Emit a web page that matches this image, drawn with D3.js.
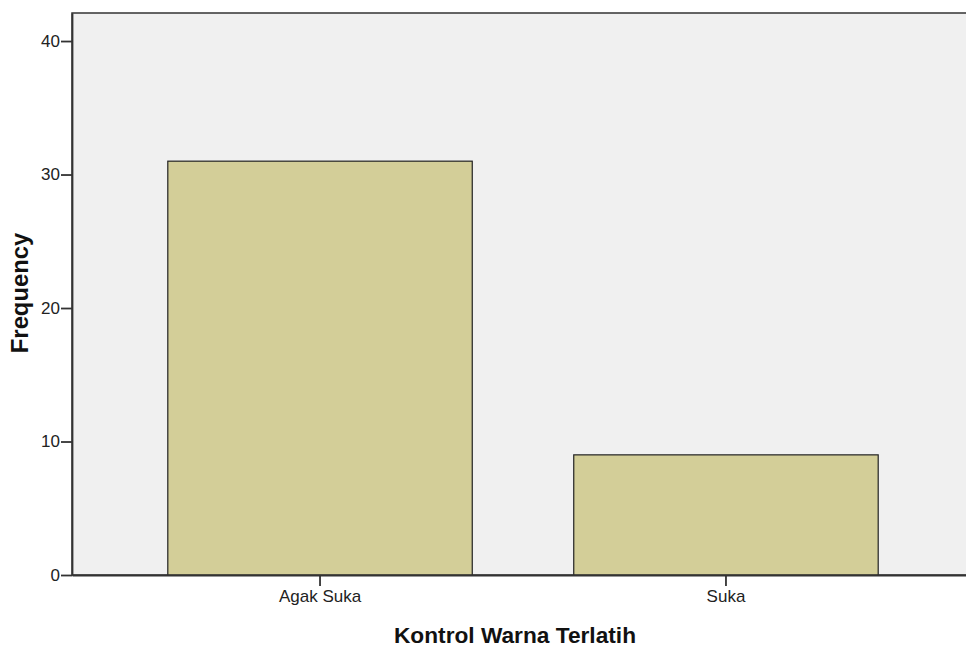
<!DOCTYPE html>
<html><head><meta charset="utf-8">
<script src="https://cdn.jsdelivr.net/npm/d3@7"></script>
<style>body{margin:0;background:#fff}svg{display:block}</style>
</head><body>
<script>
const categories = ["Agak Suka", "Suka"];
const frequencies = [31, 9];
const yTicks = [0, 10, 20, 30, 40];
const xTitle = "Kontrol Warna Terlatih";
const yTitle = "Frequency";

const W = 966, H = 652;
const m = {left: 72, top: 13, right: -8, bottom: 77};
const svg = d3.select("body").append("svg").attr("width", W).attr("height", H);

const x = d3.scaleBand().domain(categories).range([m.left, W - m.right]).paddingInner(0.25).paddingOuter(0.236);
const y = d3.scaleLinear().domain([0, 42.1]).range([H - m.bottom, m.top]);
const FONT = "Liberation Sans, Arial, sans-serif";

svg.append("rect").attr("x", m.left).attr("y", m.top).attr("width", W - m.right - m.left).attr("height", H - m.bottom - m.top)
  .attr("fill", "#f0f0f0").attr("stroke", "#333").attr("stroke-width", 1.5);

svg.selectAll("rect.bar").data(frequencies).join("rect").attr("class", "bar")
  .attr("x", (d, i) => x(categories[i])).attr("y", d => y(d))
  .attr("width", x.bandwidth()).attr("height", d => y(0) - y(d))
  .attr("fill", "#d3ce98").attr("stroke", "#222").attr("stroke-width", 1.2);

const yAxis = svg.append("g").attr("transform", `translate(${m.left},0)`)
  .call(d3.axisLeft(y).tickValues(yTicks).tickSizeInner(11).tickSizeOuter(0).tickPadding(1).tickFormat(d3.format("d")));
const xAxis = svg.append("g").attr("transform", `translate(0,${H - m.bottom})`)
  .call(d3.axisBottom(x).tickSizeInner(11).tickSizeOuter(0).tickPadding(4));
[yAxis, xAxis].forEach(g => {
  g.select(".domain").attr("stroke", "#333").attr("stroke-width", 1.8);
  g.selectAll(".tick line").attr("stroke", "#333").attr("stroke-width", 1.8);
  g.selectAll("text").attr("fill", "#222").attr("font-family", FONT).attr("font-size", 17);
});

svg.append("text").attr("x", 515).attr("y", 643).attr("text-anchor", "middle")
  .attr("font-family", FONT).attr("font-weight", "bold").attr("font-size", 22.7).attr("fill", "#111")
  .text(xTitle);
svg.append("text").attr("transform", `translate(28,293) rotate(-90)`).attr("text-anchor", "middle")
  .attr("font-family", FONT).attr("font-weight", "bold").attr("font-size", 23.8).attr("fill", "#111")
  .text(yTitle);
</script>
</body></html>
